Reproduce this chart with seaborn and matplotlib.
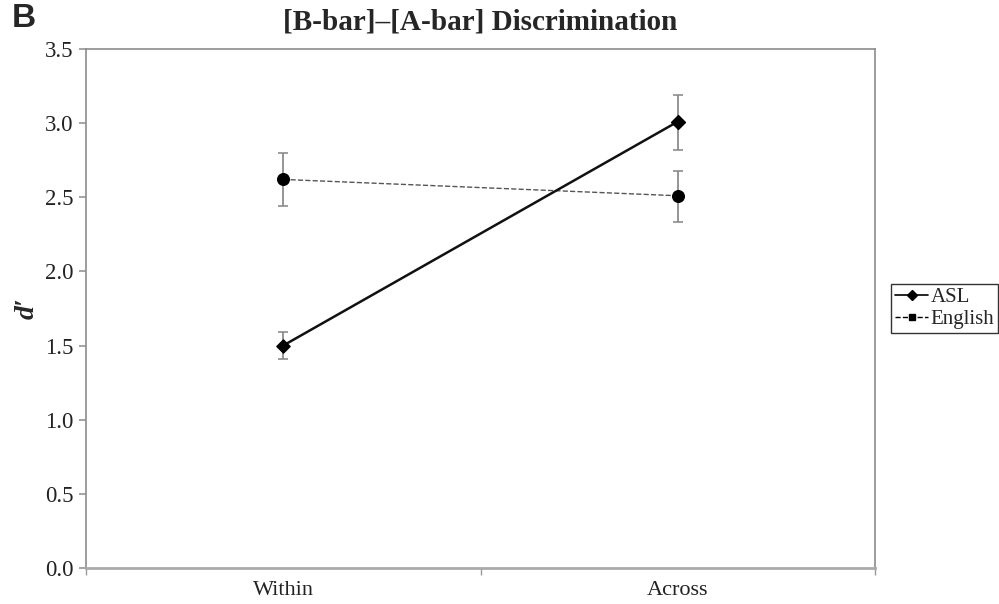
import matplotlib
matplotlib.use("Agg")
import matplotlib.pyplot as plt
from matplotlib.lines import Line2D
import seaborn as sns
import pandas as pd
import numpy as np

conditions = ["Within", "Across"]
asl_mean = [1.50, 3.01]
asl_err_low = [1.41, 2.82]
asl_err_high = [1.59, 3.19]
eng_mean = [2.62, 2.51]
eng_err_low = [2.44, 2.33]
eng_err_high = [2.80, 2.68]
y_ticks = [0.0, 0.5, 1.0, 1.5, 2.0, 2.5, 3.0, 3.5]

sns.set_theme(style="white")
plt.rcParams['font.family'] = ['Liberation Serif', 'DejaVu Serif']

df = pd.DataFrame({
    "Condition": conditions * 2,
    "d": asl_mean + eng_mean,
    "Group": ["ASL"] * 2 + ["English"] * 2,
})

fig = plt.figure(figsize=(9.99, 6.04), dpi=100)
ax = fig.add_axes([0.086, 0.0596, 0.790, 0.8594])

# error bars
for means, lo, hi in [(asl_mean, asl_err_low, asl_err_high), (eng_mean, eng_err_low, eng_err_high)]:
    m = np.array(means)
    yerr = np.vstack([m - np.array(lo), np.array(hi) - m])
    ax.errorbar(range(len(conditions)), m, yerr=yerr, fmt="none", ecolor="#8c8c8c",
                elinewidth=1.3, capsize=3.5, capthick=1.2, zorder=2)

asl_df = df[df.Group == "ASL"]
eng_df = df[df.Group == "English"]
sns.pointplot(data=eng_df, x="Condition", y="d", order=conditions, color="#555555",
              linestyles="--", markers="o", errorbar=None, ax=ax,
              linewidth=1.0, markersize=0, zorder=3)
sns.pointplot(data=asl_df, x="Condition", y="d", order=conditions, color="#111111",
              linestyles="-", markers="D", errorbar=None, ax=ax,
              linewidth=1.8, markersize=0, zorder=4)
# markers
ax.scatter([0, 1], eng_mean, marker="o", s=70, color="black", zorder=5)
ax.scatter([0], asl_mean[:1], marker="D", s=45, color="black", zorder=5)
ax.scatter([1], asl_mean[1:], marker="D", s=50, color="black", zorder=5)

ax.set_xlim(-0.5, 1.5)
ax.set_ylim(0, 3.5)
ax.set_yticks(y_ticks)
ax.set_yticklabels([f"{v:.1f}" for v in y_ticks], fontsize=16.5, color="#222222")
ax.set_xticks([0, 1])
ax.set_xticklabels(conditions, fontsize=16, color="#222222")
ax.set_xticks([-0.5, 0.5, 1.5], minor=True)
ax.tick_params(axis="x", which="major", length=0, pad=9)
ax.tick_params(axis="x", which="minor", length=5, color="#999999", direction="out", bottom=True)
ax.tick_params(axis="y", length=5, color="#999999", direction="out", left=True, pad=4)
for s in ax.spines.values():
    s.set_color("#8c8c8c")
    s.set_linewidth(1.2)
    s.set_visible(True)
ax.spines["bottom"].set_linewidth(2.0)
ax.spines["bottom"].set_color("#aaaaaa")

ax.set_xlabel("")
ax.set_ylabel("d\u2032", fontsize=20, fontweight="bold", fontstyle="italic")
ax.yaxis.set_label_coords(-0.058, 0.5)
ax.set_title("[B-bar]\u2013[A-bar] Discrimination", fontsize=21, fontweight="bold", pad=14)
fig.text(0.012, 0.955, "B", fontsize=24, fontweight="bold", family="Liberation Sans")

handles = [
    Line2D([0], [0], color="black", lw=1.2, marker="D", markersize=5, label="ASL"),
    Line2D([0], [0], color="black", lw=1.0, ls="--", marker="s", markersize=4, label="English"),
]
leg = ax.legend(handles=handles, loc="center left", bbox_to_anchor=(1.02, 0.5),
                fontsize=15, frameon=True, fancybox=False, handlelength=1.6,
                handletextpad=0.1, borderpad=0.2, labelspacing=0.1, borderaxespad=0)
leg.get_frame().set_edgecolor("black")
leg.get_frame().set_linewidth(1.0)

fig.savefig("out.png", dpi=100)
